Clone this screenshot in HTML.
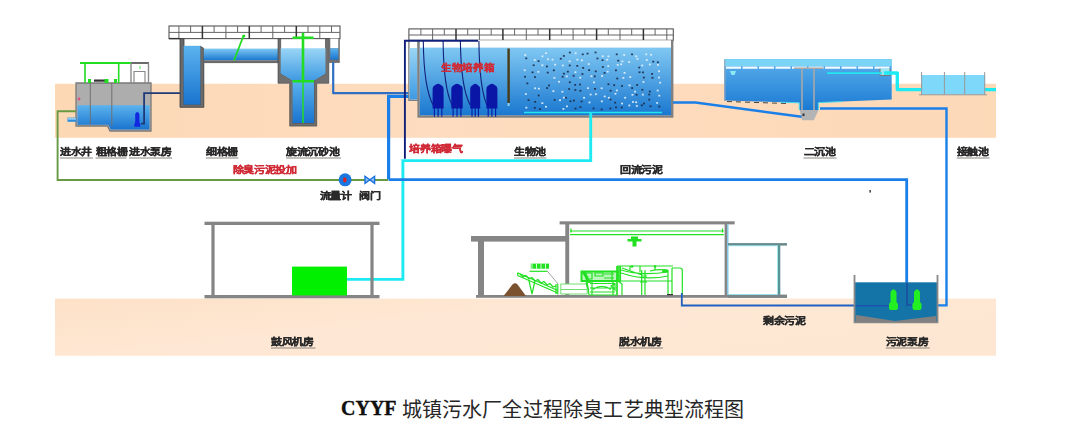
<!DOCTYPE html>
<html lang="zh-CN"><head><meta charset="utf-8"><title>CYYF</title>
<style>
html,body{margin:0;padding:0;background:#fff;width:1077px;height:443px;overflow:hidden}
svg{position:absolute;left:0;top:0;filter:blur(0.45px)}
.lb{font-family:"Liberation Sans",sans-serif;font-size:11px;font-weight:bold;fill:#2a2a2a;stroke:#2a2a2a;stroke-width:0.35px}
.rd{font-family:"Liberation Sans",sans-serif;font-size:11px;font-weight:bold;fill:#d02a36;stroke:#d02a36;stroke-width:0.3px}
.cap{position:absolute;left:341px;top:397px;font-family:"Liberation Serif",serif;font-size:20px;color:#111;white-space:nowrap;line-height:26px}
</style></head><body>
<svg width="1077" height="443" viewBox="0 0 1077 443">
<defs>
<linearGradient id="wat" x1="0" y1="0" x2="0" y2="1"><stop offset="0" stop-color="#80c8f3"/><stop offset="1" stop-color="#1a78d0"/></linearGradient>
<linearGradient id="watD" x1="0" y1="0" x2="0" y2="1"><stop offset="0" stop-color="#5bb3ee"/><stop offset="1" stop-color="#1a74cf"/></linearGradient>
<linearGradient id="watL" x1="0" y1="0" x2="0" y2="1"><stop offset="0" stop-color="#9ad5f6"/><stop offset="1" stop-color="#3e9ae2"/></linearGradient>
<linearGradient id="band2" x1="0" y1="0" x2="1" y2="0.5"><stop offset="0" stop-color="#fde1c7"/><stop offset="0.5" stop-color="#fee8d5"/><stop offset="1" stop-color="#fee7d2"/></linearGradient>
<linearGradient id="band1" x1="0" y1="0" x2="1" y2="0"><stop offset="0" stop-color="#fcd8b4"/><stop offset="0.4" stop-color="#fddcbf"/><stop offset="1" stop-color="#fcd9b7"/></linearGradient>
</defs>

<rect x="55" y="83.8" width="941" height="54" fill="url(#band1)"/>
<rect x="55" y="298.6" width="941" height="57.2" fill="url(#band2)"/>
<path d="M76 83 H151 V131 H110 L107.5 126 H76 Z" fill="#adadad" stroke="#7a7a7a" stroke-width="1.3"/>
<path d="M77.5 105.3 H149.5 V129.5 H110.8 L108.3 124.8 H77.5 Z" fill="url(#watD)"/>
<line x1="90.3" y1="83" x2="90.3" y2="125" stroke="#707070" stroke-width="1"/>
<line x1="111.8" y1="83" x2="111.8" y2="126" stroke="#707070" stroke-width="1"/>
<path d="M80 63 H131" stroke="#22dd22" stroke-width="2" fill="none"/>
<path d="M131 63 H149" stroke="#444" stroke-width="1.6" fill="none"/>
<path d="M85 63 V83 M118.7 63 V83" stroke="#22dd22" stroke-width="1.6"/>
<path d="M131 63 V83 M148.5 63 V83" stroke="#8a8a8a" stroke-width="1.4"/>
<path d="M134 83 V71.5 H145 V83" stroke="#8a8a8a" stroke-width="1.2" fill="none"/>
<path d="M140 66 V69" stroke="#22dd22" stroke-width="0.8"/>
<rect x="88" y="79" width="3" height="4" fill="#22dd22"/><rect x="94" y="79.5" width="11" height="2.2" fill="#333"/><rect x="104.5" y="79" width="4" height="4" fill="#22dd22"/><rect x="114" y="79" width="3" height="4" fill="#22dd22"/>
<rect x="67.5" y="117.6" width="9" height="4.2" fill="#2a8ee0"/><rect x="68" y="118.3" width="8" height="1.2" fill="#bfe6fb"/>
<circle cx="79" cy="99" r="1.4" fill="#e05080"/>
<path d="M135.2 122 V114 Q137.3 109.8 139.4 114 V122 L140.3 124.5 V126.8 H134.3 V124.5 Z" fill="#1228e0"/>
<path d="M141 123.6 H144.1 V93.2 H184" stroke="#1e3a78" stroke-width="1.8" fill="none"/>
<rect x="169" y="26" width="171" height="12.600000000000001" fill="#fff" stroke="#555" stroke-width="1.1"/><line x1="169" y1="32.4" x2="340" y2="32.4" stroke="#666" stroke-width="1"/><line x1="178.9" y1="26" x2="178.9" y2="38.6" stroke="#666" stroke-width="1"/><line x1="190.6" y1="26" x2="190.6" y2="32.4" stroke="#666" stroke-width="1"/><line x1="202.4" y1="26" x2="202.4" y2="38.6" stroke="#333" stroke-width="1.5"/><line x1="214.1" y1="26" x2="214.1" y2="32.4" stroke="#666" stroke-width="1"/><line x1="225.9" y1="26" x2="225.9" y2="38.6" stroke="#666" stroke-width="1"/><line x1="237.6" y1="26" x2="237.6" y2="32.4" stroke="#666" stroke-width="1"/><line x1="249.3" y1="26" x2="249.3" y2="38.6" stroke="#333" stroke-width="1.5"/><line x1="261.1" y1="26" x2="261.1" y2="32.4" stroke="#666" stroke-width="1"/><line x1="272.8" y1="26" x2="272.8" y2="38.6" stroke="#666" stroke-width="1"/><line x1="284.6" y1="26" x2="284.6" y2="32.4" stroke="#666" stroke-width="1"/><line x1="296.3" y1="26" x2="296.3" y2="38.6" stroke="#333" stroke-width="1.5"/><line x1="308.0" y1="26" x2="308.0" y2="32.4" stroke="#666" stroke-width="1"/><line x1="319.8" y1="26" x2="319.8" y2="38.6" stroke="#666" stroke-width="1"/><line x1="331.5" y1="26" x2="331.5" y2="32.4" stroke="#666" stroke-width="1"/>
<path d="M169 38.6 H180" stroke="#333" stroke-width="1.4"/>
<path d="M180 38.6 H184 V104.6 H200.4 V46.2 L203.8 48.5 V107.3 H180 Z" fill="#6a6a6a" stroke="#3a3a3a" stroke-width="0.8"/>
<rect x="183.6" y="45.8" width="16.8" height="58.8" fill="url(#watD)"/>
<rect x="203.8" y="48.6" width="75" height="11.7" fill="url(#wat)"/>
<rect x="203.8" y="60.3" width="75" height="2.8" fill="#6a6a6a"/>
<line x1="243.5" y1="35.8" x2="234" y2="60.5" stroke="#22dd22" stroke-width="1.8"/>
<circle cx="243.8" cy="36" r="1.6" fill="#22dd22"/>
<path d="M278 38.6 H280.7 V73.6 L292.5 80.5 V123 H314 V80.5 L325.5 73.6 V38.6 H328.8 V83.3 H316.7 V126.1 H289.7 V83.3 H278 Z" fill="#6f6f6f" stroke="#3a3a3a" stroke-width="0.6"/>
<path d="M280.7 48.3 H325.5 V73.6 L314 80.5 H292.5 L280.7 73.6 Z" fill="url(#watL)"/>
<rect x="292.5" y="80.5" width="21.5" height="42.5" fill="url(#watD)"/>
<rect x="328.8" y="38.6" width="11" height="24.3" fill="#6f6f6f"/>
<rect x="330.3" y="38.6" width="8" height="9.7" fill="#fff"/>
<rect x="330.3" y="48.3" width="8" height="11.4" fill="url(#watD)"/>
<path d="M303 32.7 V81" stroke="#22dd22" stroke-width="2.6"/>
<path d="M303 81 V123" stroke="#22dd22" stroke-width="1.5"/>
<path d="M292.6 37.8 H313.6 M292.5 81.3 H314" stroke="#22dd22" stroke-width="2.4"/>
<path d="M333.2 62 V93.2 H410" stroke="#2f6fc2" stroke-width="2.2" fill="none" stroke-linejoin="round"/>
<path d="M410 96.4 H388.6 V179.5" stroke="#1a7fe8" stroke-width="3.2" fill="none"/>
<rect x="408.9" y="28.9" width="264.4" height="11.399999999999999" fill="#fff" stroke="#555" stroke-width="1.1"/><line x1="408.9" y1="35" x2="673.3" y2="35" stroke="#666" stroke-width="1"/><line x1="420.9" y1="28.9" x2="420.9" y2="35" stroke="#666" stroke-width="1"/><line x1="432.6" y1="28.9" x2="432.6" y2="40.3" stroke="#666" stroke-width="1"/><line x1="444.3" y1="28.9" x2="444.3" y2="35" stroke="#666" stroke-width="1"/><line x1="456.0" y1="28.9" x2="456.0" y2="40.3" stroke="#333" stroke-width="1.5"/><line x1="467.7" y1="28.9" x2="467.7" y2="35" stroke="#666" stroke-width="1"/><line x1="479.4" y1="28.9" x2="479.4" y2="40.3" stroke="#666" stroke-width="1"/><line x1="491.2" y1="28.9" x2="491.2" y2="35" stroke="#666" stroke-width="1"/><line x1="502.9" y1="28.9" x2="502.9" y2="40.3" stroke="#333" stroke-width="1.5"/><line x1="514.6" y1="28.9" x2="514.6" y2="35" stroke="#666" stroke-width="1"/><line x1="526.3" y1="28.9" x2="526.3" y2="40.3" stroke="#666" stroke-width="1"/><line x1="538.0" y1="28.9" x2="538.0" y2="35" stroke="#666" stroke-width="1"/><line x1="549.7" y1="28.9" x2="549.7" y2="40.3" stroke="#333" stroke-width="1.5"/><line x1="561.4" y1="28.9" x2="561.4" y2="35" stroke="#666" stroke-width="1"/><line x1="573.1" y1="28.9" x2="573.1" y2="40.3" stroke="#666" stroke-width="1"/><line x1="584.8" y1="28.9" x2="584.8" y2="35" stroke="#666" stroke-width="1"/><line x1="596.6" y1="28.9" x2="596.6" y2="40.3" stroke="#333" stroke-width="1.5"/><line x1="608.3" y1="28.9" x2="608.3" y2="35" stroke="#666" stroke-width="1"/><line x1="620.0" y1="28.9" x2="620.0" y2="40.3" stroke="#666" stroke-width="1"/><line x1="631.7" y1="28.9" x2="631.7" y2="35" stroke="#666" stroke-width="1"/><line x1="643.4" y1="28.9" x2="643.4" y2="40.3" stroke="#333" stroke-width="1.5"/><line x1="655.1" y1="28.9" x2="655.1" y2="35" stroke="#666" stroke-width="1"/><line x1="666.8" y1="28.9" x2="666.8" y2="40.3" stroke="#666" stroke-width="1"/>
<rect x="408.2" y="40.3" width="11.6" height="60.7" fill="#808080"/>
<rect x="409.6" y="40.3" width="7.8" height="59.2" fill="#fff"/>
<rect x="409.6" y="48" width="7.8" height="51.5" fill="url(#watL)"/>
<rect x="417.4" y="40.3" width="256" height="77.4" fill="#808080"/>
<rect x="419.8" y="40.3" width="251.2" height="74.9" fill="#fff"/>
<rect x="419.8" y="47.6" width="251.2" height="67.6" fill="url(#wat)"/>
<rect x="507.4" y="48.5" width="2.4" height="54.5" fill="#4a3c16"/><rect x="507.6" y="103" width="2" height="3" fill="#8fd0f5"/>
<path d="M404.9 158.8 V40.8 H478" stroke="#10207a" stroke-width="1.9" fill="none"/>
<path d="M423.3 41 Q423.8 88 433.1 105" stroke="#10207a" stroke-width="1.1" fill="none"/>
<path d="M443.1 41 Q443.6 88 452 105" stroke="#10207a" stroke-width="1.1" fill="none"/>
<path d="M460.4 41 Q460.9 88 470.2 105" stroke="#10207a" stroke-width="1.1" fill="none"/>
<path d="M478.9 41 Q479.4 88 486.9 105" stroke="#10207a" stroke-width="1.1" fill="none"/>
<path d="M432.6 108.4 V89 Q432.6 86 434.6 85.5 Q438.1 82 441.6 85.5 Q443.6 86 443.6 89 V108.4 Z" fill="#0a17a6"/>
<path d="M434.40000000000003 108 V116.7 M438.1 108 V116.7 M441.8 108 V116.7" stroke="#0a17a6" stroke-width="1.1"/>
<path d="M451.3 108.4 V89 Q451.3 86 453.3 85.5 Q457 82 460.7 85.5 Q462.7 86 462.7 89 V108.4 Z" fill="#0a17a6"/>
<path d="M453.1 108 V116.7 M457 108 V116.7 M460.9 108 V116.7" stroke="#0a17a6" stroke-width="1.1"/>
<path d="M470.2 108.4 V89 Q470.2 86 472.2 85.5 Q475.2 82 478.2 85.5 Q480.2 86 480.2 89 V108.4 Z" fill="#0a17a6"/>
<path d="M472.0 108 V116.7 M475.2 108 V116.7 M478.4 108 V116.7" stroke="#0a17a6" stroke-width="1.1"/>
<path d="M486.4 108.4 V89 Q486.4 86 488.4 85.5 Q491.9 82 495.4 85.5 Q497.4 86 497.4 89 V108.4 Z" fill="#0a17a6"/>
<path d="M488.2 108 V116.7 M491.9 108 V116.7 M495.59999999999997 108 V116.7" stroke="#0a17a6" stroke-width="1.1"/>
<text transform="translate(440.8 71.3) scale(1 0.86)" class="rd" style="font-size:10.6px">生物培养箱</text>
<rect x="524.3" y="54.2" width="1.9" height="1.7" fill="#e6f2fc" opacity="0.9"/>
<rect x="525.3" y="57.5" width="1.9" height="1.7" fill="#1c2a48" opacity="0.9"/>
<rect x="523.8" y="69.4" width="1.9" height="1.7" fill="#e6f2fc" opacity="0.9"/>
<rect x="524.1" y="75.9" width="1.9" height="1.7" fill="#1c2a48" opacity="0.9"/>
<rect x="526.4" y="82.5" width="1.9" height="1.7" fill="#1c2a48" opacity="0.9"/>
<rect x="524.9" y="93.2" width="1.9" height="1.7" fill="#e6f2fc" opacity="0.9"/>
<rect x="527.6" y="99.3" width="1.9" height="1.7" fill="#1c2a48" opacity="0.9"/>
<rect x="525.4" y="106.8" width="1.9" height="1.7" fill="#e6f2fc" opacity="0.9"/>
<rect x="533.8" y="59.1" width="1.9" height="1.7" fill="#e6f2fc" opacity="0.9"/>
<rect x="532.7" y="64.4" width="1.9" height="1.7" fill="#1c2a48" opacity="0.9"/>
<rect x="531.6" y="71.5" width="1.9" height="1.7" fill="#1c2a48" opacity="0.9"/>
<rect x="534.0" y="76.2" width="1.9" height="1.7" fill="#1c2a48" opacity="0.9"/>
<rect x="534.2" y="87.4" width="1.9" height="1.7" fill="#e6f2fc" opacity="0.9"/>
<rect x="534.2" y="101.0" width="1.9" height="1.7" fill="#1c2a48" opacity="0.9"/>
<rect x="533.9" y="107.0" width="1.9" height="1.7" fill="#1c2a48" opacity="0.9"/>
<rect x="541.5" y="55.5" width="1.9" height="1.7" fill="#e6f2fc" opacity="0.9"/>
<rect x="537.6" y="60.3" width="1.9" height="1.7" fill="#1c2a48" opacity="0.9"/>
<rect x="541.4" y="64.4" width="1.9" height="1.7" fill="#e6f2fc" opacity="0.9"/>
<rect x="537.4" y="71.0" width="1.9" height="1.7" fill="#e6f2fc" opacity="0.9"/>
<rect x="537.9" y="87.8" width="1.9" height="1.7" fill="#e6f2fc" opacity="0.9"/>
<rect x="537.7" y="94.6" width="1.9" height="1.7" fill="#1c2a48" opacity="0.9"/>
<rect x="541.4" y="102.3" width="1.9" height="1.7" fill="#e6f2fc" opacity="0.9"/>
<rect x="539.1" y="108.3" width="1.9" height="1.7" fill="#1c2a48" opacity="0.9"/>
<rect x="545.1" y="52.3" width="1.9" height="1.7" fill="#e6f2fc" opacity="0.9"/>
<rect x="547.1" y="58.4" width="1.9" height="1.7" fill="#e6f2fc" opacity="0.9"/>
<rect x="546.0" y="65.6" width="1.9" height="1.7" fill="#1c2a48" opacity="0.9"/>
<rect x="546.8" y="71.7" width="1.9" height="1.7" fill="#1c2a48" opacity="0.9"/>
<rect x="548.1" y="84.6" width="1.9" height="1.7" fill="#1c2a48" opacity="0.9"/>
<rect x="546.2" y="87.2" width="1.9" height="1.7" fill="#1c2a48" opacity="0.9"/>
<rect x="545.0" y="105.9" width="1.9" height="1.7" fill="#e6f2fc" opacity="0.9"/>
<rect x="551.6" y="58.8" width="1.9" height="1.7" fill="#e6f2fc" opacity="0.9"/>
<rect x="554.2" y="63.8" width="1.9" height="1.7" fill="#e6f2fc" opacity="0.9"/>
<rect x="552.9" y="69.5" width="1.9" height="1.7" fill="#1c2a48" opacity="0.9"/>
<rect x="553.4" y="77.0" width="1.9" height="1.7" fill="#e6f2fc" opacity="0.9"/>
<rect x="552.4" y="90.3" width="1.9" height="1.7" fill="#e6f2fc" opacity="0.9"/>
<rect x="553.7" y="99.1" width="1.9" height="1.7" fill="#1c2a48" opacity="0.9"/>
<rect x="562.9" y="55.1" width="1.9" height="1.7" fill="#1c2a48" opacity="0.9"/>
<rect x="559.8" y="57.9" width="1.9" height="1.7" fill="#1c2a48" opacity="0.9"/>
<rect x="561.9" y="64.6" width="1.9" height="1.7" fill="#e6f2fc" opacity="0.9"/>
<rect x="562.9" y="72.8" width="1.9" height="1.7" fill="#1c2a48" opacity="0.9"/>
<rect x="561.7" y="75.9" width="1.9" height="1.7" fill="#1c2a48" opacity="0.9"/>
<rect x="558.1" y="80.9" width="1.9" height="1.7" fill="#e6f2fc" opacity="0.9"/>
<rect x="561.5" y="90.9" width="1.9" height="1.7" fill="#e6f2fc" opacity="0.9"/>
<rect x="562.9" y="96.8" width="1.9" height="1.7" fill="#e6f2fc" opacity="0.9"/>
<rect x="559.1" y="99.4" width="1.9" height="1.7" fill="#e6f2fc" opacity="0.9"/>
<rect x="562.5" y="108.1" width="1.9" height="1.7" fill="#e6f2fc" opacity="0.9"/>
<rect x="568.9" y="51.7" width="1.9" height="1.7" fill="#1c2a48" opacity="0.9"/>
<rect x="568.8" y="60.5" width="1.9" height="1.7" fill="#e6f2fc" opacity="0.9"/>
<rect x="568.8" y="64.6" width="1.9" height="1.7" fill="#1c2a48" opacity="0.9"/>
<rect x="566.9" y="70.8" width="1.9" height="1.7" fill="#1c2a48" opacity="0.9"/>
<rect x="565.8" y="75.5" width="1.9" height="1.7" fill="#e6f2fc" opacity="0.9"/>
<rect x="568.9" y="81.4" width="1.9" height="1.7" fill="#1c2a48" opacity="0.9"/>
<rect x="568.2" y="88.2" width="1.9" height="1.7" fill="#1c2a48" opacity="0.9"/>
<rect x="565.0" y="96.9" width="1.9" height="1.7" fill="#1c2a48" opacity="0.9"/>
<rect x="569.6" y="100.4" width="1.9" height="1.7" fill="#1c2a48" opacity="0.9"/>
<rect x="566.0" y="105.5" width="1.9" height="1.7" fill="#e6f2fc" opacity="0.9"/>
<rect x="574.7" y="52.4" width="1.9" height="1.7" fill="#e6f2fc" opacity="0.9"/>
<rect x="576.4" y="58.8" width="1.9" height="1.7" fill="#e6f2fc" opacity="0.9"/>
<rect x="576.3" y="65.0" width="1.9" height="1.7" fill="#1c2a48" opacity="0.9"/>
<rect x="574.5" y="71.3" width="1.9" height="1.7" fill="#e6f2fc" opacity="0.9"/>
<rect x="572.7" y="74.9" width="1.9" height="1.7" fill="#1c2a48" opacity="0.9"/>
<rect x="574.2" y="84.0" width="1.9" height="1.7" fill="#1c2a48" opacity="0.9"/>
<rect x="574.4" y="89.1" width="1.9" height="1.7" fill="#1c2a48" opacity="0.9"/>
<rect x="573.0" y="99.7" width="1.9" height="1.7" fill="#1c2a48" opacity="0.9"/>
<rect x="574.6" y="107.7" width="1.9" height="1.7" fill="#1c2a48" opacity="0.9"/>
<rect x="581.8" y="53.5" width="1.9" height="1.7" fill="#1c2a48" opacity="0.9"/>
<rect x="581.0" y="59.5" width="1.9" height="1.7" fill="#e6f2fc" opacity="0.9"/>
<rect x="582.2" y="67.0" width="1.9" height="1.7" fill="#1c2a48" opacity="0.9"/>
<rect x="581.5" y="73.2" width="1.9" height="1.7" fill="#1c2a48" opacity="0.9"/>
<rect x="579.3" y="76.8" width="1.9" height="1.7" fill="#e6f2fc" opacity="0.9"/>
<rect x="579.1" y="83.7" width="1.9" height="1.7" fill="#1c2a48" opacity="0.9"/>
<rect x="579.5" y="89.9" width="1.9" height="1.7" fill="#1c2a48" opacity="0.9"/>
<rect x="583.1" y="96.9" width="1.9" height="1.7" fill="#e6f2fc" opacity="0.9"/>
<rect x="580.7" y="100.6" width="1.9" height="1.7" fill="#1c2a48" opacity="0.9"/>
<rect x="579.5" y="106.3" width="1.9" height="1.7" fill="#1c2a48" opacity="0.9"/>
<rect x="586.6" y="52.7" width="1.9" height="1.7" fill="#1c2a48" opacity="0.9"/>
<rect x="587.8" y="63.2" width="1.9" height="1.7" fill="#e6f2fc" opacity="0.9"/>
<rect x="588.2" y="69.3" width="1.9" height="1.7" fill="#1c2a48" opacity="0.9"/>
<rect x="590.5" y="75.4" width="1.9" height="1.7" fill="#e6f2fc" opacity="0.9"/>
<rect x="587.0" y="87.3" width="1.9" height="1.7" fill="#e6f2fc" opacity="0.9"/>
<rect x="589.7" y="93.7" width="1.9" height="1.7" fill="#e6f2fc" opacity="0.9"/>
<rect x="588.5" y="101.6" width="1.9" height="1.7" fill="#e6f2fc" opacity="0.9"/>
<rect x="594.6" y="51.6" width="1.9" height="1.7" fill="#1c2a48" opacity="0.9"/>
<rect x="596.5" y="57.6" width="1.9" height="1.7" fill="#1c2a48" opacity="0.9"/>
<rect x="594.8" y="70.5" width="1.9" height="1.7" fill="#1c2a48" opacity="0.9"/>
<rect x="593.8" y="75.5" width="1.9" height="1.7" fill="#1c2a48" opacity="0.9"/>
<rect x="593.0" y="81.5" width="1.9" height="1.7" fill="#e6f2fc" opacity="0.9"/>
<rect x="594.1" y="88.0" width="1.9" height="1.7" fill="#1c2a48" opacity="0.9"/>
<rect x="595.0" y="93.4" width="1.9" height="1.7" fill="#e6f2fc" opacity="0.9"/>
<rect x="592.6" y="107.6" width="1.9" height="1.7" fill="#1c2a48" opacity="0.9"/>
<rect x="601.8" y="55.4" width="1.9" height="1.7" fill="#e6f2fc" opacity="0.9"/>
<rect x="601.6" y="59.4" width="1.9" height="1.7" fill="#1c2a48" opacity="0.9"/>
<rect x="601.9" y="66.1" width="1.9" height="1.7" fill="#1c2a48" opacity="0.9"/>
<rect x="603.6" y="72.1" width="1.9" height="1.7" fill="#1c2a48" opacity="0.9"/>
<rect x="601.1" y="75.1" width="1.9" height="1.7" fill="#e6f2fc" opacity="0.9"/>
<rect x="600.7" y="87.4" width="1.9" height="1.7" fill="#e6f2fc" opacity="0.9"/>
<rect x="603.8" y="95.6" width="1.9" height="1.7" fill="#e6f2fc" opacity="0.9"/>
<rect x="600.9" y="100.5" width="1.9" height="1.7" fill="#e6f2fc" opacity="0.9"/>
<rect x="600.7" y="108.6" width="1.9" height="1.7" fill="#1c2a48" opacity="0.9"/>
<rect x="607.5" y="55.5" width="1.9" height="1.7" fill="#e6f2fc" opacity="0.9"/>
<rect x="606.3" y="58.9" width="1.9" height="1.7" fill="#e6f2fc" opacity="0.9"/>
<rect x="607.3" y="65.3" width="1.9" height="1.7" fill="#e6f2fc" opacity="0.9"/>
<rect x="606.7" y="70.8" width="1.9" height="1.7" fill="#e6f2fc" opacity="0.9"/>
<rect x="607.5" y="83.4" width="1.9" height="1.7" fill="#1c2a48" opacity="0.9"/>
<rect x="609.6" y="89.9" width="1.9" height="1.7" fill="#1c2a48" opacity="0.9"/>
<rect x="607.9" y="96.9" width="1.9" height="1.7" fill="#e6f2fc" opacity="0.9"/>
<rect x="609.5" y="98.7" width="1.9" height="1.7" fill="#1c2a48" opacity="0.9"/>
<rect x="609.4" y="107.6" width="1.9" height="1.7" fill="#1c2a48" opacity="0.9"/>
<rect x="615.8" y="53.5" width="1.9" height="1.7" fill="#1c2a48" opacity="0.9"/>
<rect x="617.3" y="59.8" width="1.9" height="1.7" fill="#1c2a48" opacity="0.9"/>
<rect x="616.7" y="64.1" width="1.9" height="1.7" fill="#e6f2fc" opacity="0.9"/>
<rect x="615.0" y="69.5" width="1.9" height="1.7" fill="#1c2a48" opacity="0.9"/>
<rect x="616.3" y="77.7" width="1.9" height="1.7" fill="#1c2a48" opacity="0.9"/>
<rect x="613.2" y="84.3" width="1.9" height="1.7" fill="#1c2a48" opacity="0.9"/>
<rect x="615.9" y="89.6" width="1.9" height="1.7" fill="#e6f2fc" opacity="0.9"/>
<rect x="614.5" y="92.9" width="1.9" height="1.7" fill="#e6f2fc" opacity="0.9"/>
<rect x="614.2" y="101.8" width="1.9" height="1.7" fill="#1c2a48" opacity="0.9"/>
<rect x="615.1" y="106.5" width="1.9" height="1.7" fill="#1c2a48" opacity="0.9"/>
<rect x="623.2" y="54.1" width="1.9" height="1.7" fill="#e6f2fc" opacity="0.9"/>
<rect x="621.4" y="60.5" width="1.9" height="1.7" fill="#e6f2fc" opacity="0.9"/>
<rect x="620.2" y="63.4" width="1.9" height="1.7" fill="#e6f2fc" opacity="0.9"/>
<rect x="623.6" y="72.0" width="1.9" height="1.7" fill="#e6f2fc" opacity="0.9"/>
<rect x="622.4" y="77.0" width="1.9" height="1.7" fill="#e6f2fc" opacity="0.9"/>
<rect x="621.1" y="85.1" width="1.9" height="1.7" fill="#1c2a48" opacity="0.9"/>
<rect x="624.2" y="96.9" width="1.9" height="1.7" fill="#e6f2fc" opacity="0.9"/>
<rect x="621.1" y="102.7" width="1.9" height="1.7" fill="#e6f2fc" opacity="0.9"/>
<rect x="620.8" y="106.7" width="1.9" height="1.7" fill="#1c2a48" opacity="0.9"/>
<rect x="631.1" y="53.5" width="1.9" height="1.7" fill="#1c2a48" opacity="0.9"/>
<rect x="628.2" y="61.1" width="1.9" height="1.7" fill="#e6f2fc" opacity="0.9"/>
<rect x="629.3" y="76.2" width="1.9" height="1.7" fill="#e6f2fc" opacity="0.9"/>
<rect x="628.6" y="84.5" width="1.9" height="1.7" fill="#e6f2fc" opacity="0.9"/>
<rect x="631.2" y="87.2" width="1.9" height="1.7" fill="#1c2a48" opacity="0.9"/>
<rect x="631.5" y="93.9" width="1.9" height="1.7" fill="#e6f2fc" opacity="0.9"/>
<rect x="632.0" y="101.1" width="1.9" height="1.7" fill="#e6f2fc" opacity="0.9"/>
<rect x="628.4" y="104.6" width="1.9" height="1.7" fill="#e6f2fc" opacity="0.9"/>
<rect x="635.3" y="55.4" width="1.9" height="1.7" fill="#e6f2fc" opacity="0.9"/>
<rect x="636.5" y="58.0" width="1.9" height="1.7" fill="#e6f2fc" opacity="0.9"/>
<rect x="638.3" y="66.7" width="1.9" height="1.7" fill="#1c2a48" opacity="0.9"/>
<rect x="638.6" y="71.4" width="1.9" height="1.7" fill="#1c2a48" opacity="0.9"/>
<rect x="636.2" y="84.1" width="1.9" height="1.7" fill="#1c2a48" opacity="0.9"/>
<rect x="634.1" y="90.8" width="1.9" height="1.7" fill="#e6f2fc" opacity="0.9"/>
<rect x="635.6" y="93.9" width="1.9" height="1.7" fill="#1c2a48" opacity="0.9"/>
<rect x="635.2" y="101.4" width="1.9" height="1.7" fill="#e6f2fc" opacity="0.9"/>
<rect x="635.9" y="105.1" width="1.9" height="1.7" fill="#e6f2fc" opacity="0.9"/>
<rect x="645.3" y="53.5" width="1.9" height="1.7" fill="#e6f2fc" opacity="0.9"/>
<rect x="645.8" y="59.2" width="1.9" height="1.7" fill="#e6f2fc" opacity="0.9"/>
<rect x="641.3" y="64.6" width="1.9" height="1.7" fill="#e6f2fc" opacity="0.9"/>
<rect x="642.1" y="71.5" width="1.9" height="1.7" fill="#1c2a48" opacity="0.9"/>
<rect x="642.9" y="76.7" width="1.9" height="1.7" fill="#1c2a48" opacity="0.9"/>
<rect x="642.5" y="81.1" width="1.9" height="1.7" fill="#e6f2fc" opacity="0.9"/>
<rect x="641.4" y="88.9" width="1.9" height="1.7" fill="#1c2a48" opacity="0.9"/>
<rect x="641.9" y="93.8" width="1.9" height="1.7" fill="#e6f2fc" opacity="0.9"/>
<rect x="643.0" y="102.7" width="1.9" height="1.7" fill="#1c2a48" opacity="0.9"/>
<rect x="640.9" y="104.5" width="1.9" height="1.7" fill="#1c2a48" opacity="0.9"/>
<rect x="650.1" y="53.9" width="1.9" height="1.7" fill="#e6f2fc" opacity="0.9"/>
<rect x="652.3" y="60.8" width="1.9" height="1.7" fill="#1c2a48" opacity="0.9"/>
<rect x="648.9" y="63.6" width="1.9" height="1.7" fill="#e6f2fc" opacity="0.9"/>
<rect x="651.1" y="73.1" width="1.9" height="1.7" fill="#1c2a48" opacity="0.9"/>
<rect x="651.5" y="76.9" width="1.9" height="1.7" fill="#1c2a48" opacity="0.9"/>
<rect x="648.9" y="90.7" width="1.9" height="1.7" fill="#1c2a48" opacity="0.9"/>
<rect x="648.3" y="93.7" width="1.9" height="1.7" fill="#1c2a48" opacity="0.9"/>
<rect x="648.3" y="98.8" width="1.9" height="1.7" fill="#1c2a48" opacity="0.9"/>
<rect x="649.6" y="105.4" width="1.9" height="1.7" fill="#1c2a48" opacity="0.9"/>
<rect x="656.9" y="61.4" width="1.9" height="1.7" fill="#1c2a48" opacity="0.9"/>
<rect x="657.0" y="64.1" width="1.9" height="1.7" fill="#e6f2fc" opacity="0.9"/>
<rect x="658.1" y="70.4" width="1.9" height="1.7" fill="#e6f2fc" opacity="0.9"/>
<rect x="658.0" y="76.7" width="1.9" height="1.7" fill="#e6f2fc" opacity="0.9"/>
<rect x="659.2" y="81.8" width="1.9" height="1.7" fill="#e6f2fc" opacity="0.9"/>
<rect x="656.7" y="89.7" width="1.9" height="1.7" fill="#e6f2fc" opacity="0.9"/>
<rect x="658.3" y="94.8" width="1.9" height="1.7" fill="#e6f2fc" opacity="0.9"/>
<rect x="656.2" y="102.1" width="1.9" height="1.7" fill="#e6f2fc" opacity="0.9"/>
<rect x="658.4" y="105.7" width="1.9" height="1.7" fill="#1c2a48" opacity="0.9"/>
<line x1="524" y1="112.5" x2="662" y2="112.5" stroke="#22e6f0" stroke-width="1.5"/>
<path d="M590.7 112.5 V160.6 H402.9 V279.4 H347" stroke="#1eeaf2" stroke-width="2.9" fill="none"/>
<linearGradient id="watC" x1="0" y1="0" x2="0" y2="1"><stop offset="0" stop-color="#5aaeeb"/><stop offset="1" stop-color="#1b7ad3"/></linearGradient>
<path d="M724 59.3 H891.7 V99.5 L818.5 102.6 L818.3 110 H799.6 L799.3 102.8 L724 100.5 Z" fill="url(#watC)"/>
<rect x="724" y="59.3" width="167.7" height="6.9" fill="#79d4f6"/>
<line x1="726" y1="67.6" x2="890" y2="67.6" stroke="#f4fbff" stroke-width="2.4" stroke-dasharray="15 1.5"/>
<line x1="724.8" y1="60" x2="724.8" y2="100.5" stroke="#9ab" stroke-width="1.2"/>
<path d="M730 71 H736 L734.5 75 H731.5 Z" fill="#8ee8f0"/>
<path d="M880 68.5 V75.5 H890 V68.5" stroke="#777" stroke-width="1" fill="#9ee6f4"/>
<path d="M727 101.5 L790 103.6" stroke="#444" stroke-width="1" stroke-dasharray="5 4"/>
<path d="M802 68.5 V111 M814 68.5 V111 M794 68.3 H823" stroke="#a8a8a8" stroke-width="1.6" fill="none"/>
<path d="M799.6 110 H818.6 L813.8 120.3 H802 Z" fill="#b4b4b4"/>
<path d="M780 102.2 L799.3 102.8 V110 M818.3 110 V102.6 L842 101.6" stroke="#3fd8f0" stroke-width="1" fill="none"/>
<rect x="802.5" y="113.5" width="2" height="2.5" fill="#333"/>
<line x1="827" y1="73.2" x2="882" y2="73.2" stroke="#22e6f0" stroke-width="1.8"/>
<path d="M884 73 H897.3 V89.6 H996" stroke="#1eeaf2" stroke-width="3.4" fill="none" stroke-linejoin="round"/>
<path d="M673 102.5 H695.4 L801.6 116.8" stroke="#1a7fe8" stroke-width="2.4" fill="none"/>
<path d="M820 108.5 H946.5 V305.4 H937.5" stroke="#1a7fe8" stroke-width="2.4" fill="none"/>
<rect x="921.4" y="75" width="63.7" height="19.5" fill="#7dd8f9"/>
<path d="M921.6 72 V94.5 M944.4 72 V94.5 M964.7 72 V94.5 M984.7 72 V94.5 M919 94.8 H987" stroke="#999" stroke-width="1" fill="none"/>
<path d="M76 111.2 H57.6 V180 H388" stroke="#689a44" stroke-width="1.9" fill="none"/>
<circle cx="345.1" cy="179.8" r="6.5" fill="#1a78e0"/><ellipse cx="344.8" cy="179.8" rx="1.8" ry="2.6" fill="#e02020"/>
<path d="M365 176.3 L374.6 183.3 V176.3 L365 183.3 Z" fill="#8fc4f0" stroke="#1a6fe0" stroke-width="1.4"/>
<path d="M388.6 179.6 H906.7 V305" stroke="#1a7fe8" stroke-width="2.8" fill="none"/>
<rect x="869.5" y="190" width="1.3" height="2.6" fill="#222"/>
<rect x="204.5" y="221.7" width="175" height="3.3" fill="#858585"/>
<rect x="204.5" y="295" width="175" height="3.3" fill="#858585"/>
<rect x="211.4" y="222" width="3.2" height="75" fill="#858585"/>
<rect x="370.4" y="222" width="3.2" height="75" fill="#858585"/>
<rect x="292" y="266.6" width="55" height="28.8" fill="#00f000"/>
<rect x="471" y="236" width="97" height="5.6" fill="#858585"/>
<rect x="478" y="241" width="6" height="56" fill="#858585"/>
<rect x="559.6" y="221.3" width="175.1" height="3.1" fill="#858585"/>
<rect x="565.3" y="222" width="3.9" height="75" fill="#858585"/>
<rect x="724.6" y="222" width="2.6" height="75" fill="#858585"/>
<rect x="727.1" y="224.4" width="1.4" height="72" fill="#7bc8e8"/>
<rect x="476" y="295" width="311" height="2.8" fill="#858585"/>
<rect x="727.9" y="243.1" width="59.1" height="2.5" fill="#6a8a8c"/><rect x="727.9" y="245.4" width="50" height="0.8" fill="#7ee0ee"/>
<rect x="777.8" y="245" width="2.5" height="50" fill="#5a9498"/><rect x="777.2" y="245" width="0.7" height="50" fill="#8ee4ee"/>
<rect x="728" y="294.6" width="59" height="3.2" fill="#7b8585"/><rect x="728" y="294" width="50" height="0.8" fill="#8ee4ee"/>
<path d="M503.5 296 L512.5 284.5 Q515 282 517.5 284.5 L526 296 Z" fill="#7a5230"/>
<path d="M570 231 H723.8 M570 234.7 H723.8" stroke="#22e022" stroke-width="1.2" fill="none"/>
<path d="M571 228.5 V232.5 M722.5 228.5 V232.5" stroke="#22e022" stroke-width="1.2" fill="none" stroke-width="2"/>
<path d="M631 236.5 H638 V239 H641.5 V241.5 H636.5 V246.5 H632.5 V241.5 H627.5 V239 H631 Z" fill="#22e022"/>
<rect x="530.8" y="263.6" width="18.3" height="5.1" fill="#22e022"/>
<path d="M532 263.6 V268.7 M536.5 263.6 V268.7 M541 263.6 V268.7 M545.5 263.6 V268.7" stroke="#fff" stroke-width="0.8"/>
<path d="M529.5 271.3 H547.5" stroke="#22e022" stroke-width="1.2" fill="none" stroke-width="1"/>
<path d="M547.5 271.3 L558 284" stroke="#666" stroke-width="0.6"/>
<path d="M517.6 272.8 L557.8 290.5 M517.6 275.5 L557.8 293 M517.6 272.8 V275.5" stroke="#22e022" stroke-width="1.2" fill="none" stroke-width="1.6"/>
<path d="M520 274 L523 277 L526 275.5 L529 279 L532 277.5 L535 281 L538 279.5 L541 283 L544 281.5 L547 285 L550 283.5 L553 287 L556 286" stroke="#22e022" stroke-width="1.2" fill="none" stroke-width="1"/>
<path d="M528.8 280 L532 294 L534.9 281 M557.8 284 V294.5 M556 284 V294" stroke="#22e022" stroke-width="1.2" fill="none" stroke-width="1.6"/>
<path d="M560.8 284 H587.2 V289.5 H560.8 Z M560.8 289.5 H587.2 V294 H560.8 Z" stroke="#70dd70" stroke-width="1" fill="#fff"/>
<path d="M581.5 271.5 H617.5 V281 H581.5 Z" stroke="#22e022" stroke-width="2" fill="#22e022" fill-opacity="0.3"/>
<path d="M581.5 271 L588.5 283 L591 283 L585 271 Z" fill="#22e022"/>
<rect x="616.3" y="266" width="4.5" height="16" fill="#22e022" opacity="0.85"/>
<path d="M583 273 L588 281 M586 273 H592 V279 H586 Z M595 273 H603 V276 H595 Z M604 274 H614 M604 278 H614 M612 271.5 V281" stroke="#22e022" stroke-width="1.2" fill="none" stroke-width="1.3"/>
<path d="M587 281 L589 295 H617 V281 M592 281 V295 M613 281 V295 M590 283.5 H615 M590 288 H615 M590 292 H615 M593 289.5 Q602 283 611 289.5" stroke="#22e022" stroke-width="1.2" fill="none" stroke-width="1.6"/>
<path d="M588 276 Q584 283 589 290 M611 286 L615 284 L615 290 Z" stroke="#22e022" stroke-width="1.2" fill="none" stroke-width="1.6"/>
<path d="M617 266 H673 M617 281 H672 M617 266 V295 M620.5 266 V281" stroke="#22e022" stroke-width="1.2" fill="none" stroke-width="1.6"/>
<path d="M621 270 Q640 276 668 272 M621 273 Q645 281 668 276 M622 268 L642 275 M650 271 Q658 269 668 270 M630 266 V270 M640 266 V272 M655 266 V270" stroke="#22e022" stroke-width="1.2" fill="none" stroke-width="1"/>
<path d="M641.7 270 V295 M645 270 V295 M668 270 V295 M672 268 V295" stroke="#22e022" stroke-width="1.2" fill="none" stroke-width="1.1"/>
<path d="M641 276 H647 M640 282 H647" stroke="#22e022" stroke-width="1.2" fill="none" stroke-width="2"/>
<ellipse cx="665" cy="271" rx="3" ry="1.6" fill="#22e022"/><circle cx="632" cy="266.5" r="1.3" fill="#22e022"/><circle cx="655" cy="266.5" r="1.3" fill="#22e022"/>
<path d="M672 268 H680 Q682.3 268 682.3 270.5 V295" stroke="#22e022" stroke-width="1.2" fill="none" stroke-width="2.4"/>
<path d="M618 281 L622 284 L622 295" stroke="#22e022" stroke-width="1.2" fill="none" stroke-width="1"/>
<rect x="667" y="294" width="6" height="1.2" fill="#333"/>
<path d="M681.8 293 V305.5 H889" stroke="#1e60c0" stroke-width="1.8" fill="none"/>
<rect x="854.5" y="282.3" width="83" height="40" fill="#1474a8"/>
<path d="M854.5 275 V322.3 H937.5 V275" stroke="#888" stroke-width="1.8" fill="none"/>
<path d="M856 315 L895 321 L936 316 V322 H856 Z" fill="#808080"/>
<path d="M907 283 V305 H912" stroke="#1b4fa0" stroke-width="1.6" fill="none"/>
<path d="M855.5 305.8 H889" stroke="#1e50b0" stroke-width="1.6"/>
<path d="M890.5 302 V292 Q893.5 286.5 896.5 292 V302 L898.0 304 V308 Q898.0 310 896.0 310 H891.0 Q889.0 310 889.0 308 V304 Z" fill="#22f022"/>
<path d="M914 302 V292 Q917 286.5 920 292 V302 L921.5 304 V308 Q921.5 310 919.5 310 H914.5 Q912.5 310 912.5 308 V304 Z" fill="#22f022"/>
<text transform="translate(60 155) scale(1 0.86)" class="lb" >进水井</text><line x1="60" y1="158" x2="93" y2="158" stroke="#8a8580" stroke-width="1"/>
<text transform="translate(95.5 155) scale(1 0.86)" class="lb" >粗格栅</text><line x1="95.5" y1="158" x2="126.5" y2="158" stroke="#8a8580" stroke-width="1"/>
<text transform="translate(129 155) scale(1 0.86)" class="lb" >进水泵房</text><line x1="129" y1="158" x2="172" y2="158" stroke="#8a8580" stroke-width="1"/>
<text transform="translate(206 155) scale(1 0.86)" class="lb" >细格栅</text><line x1="206" y1="158" x2="238.5" y2="158" stroke="#8a8580" stroke-width="1"/>
<text transform="translate(286 155) scale(1 0.86)" class="lb" >旋流沉砂池</text><line x1="286" y1="158" x2="341" y2="158" stroke="#8a8580" stroke-width="1"/>
<text transform="translate(514 155) scale(1 0.86)" class="lb" >生物池</text><line x1="514" y1="158" x2="546.5" y2="158" stroke="#8a8580" stroke-width="1"/>
<text transform="translate(803.5 155) scale(1 0.86)" class="lb" >二沉池</text><line x1="803.5" y1="158" x2="836.5" y2="158" stroke="#8a8580" stroke-width="1"/>
<text transform="translate(956.7 155) scale(1 0.86)" class="lb" >接触池</text><line x1="956.7" y1="158" x2="989.7" y2="158" stroke="#8a8580" stroke-width="1"/>
<text transform="translate(232.5 173) scale(1 0.86)" class="rd" >除臭污泥投加</text>
<text transform="translate(409.2 151.5) scale(1 0.86)" class="rd" >培养箱曝气</text>
<text transform="translate(620 172.5) scale(1 0.86)" class="lb" >回流污泥</text>
<text transform="translate(319.5 199) scale(1 0.86)" class="lb" >流量计</text>
<text transform="translate(359 199) scale(1 0.86)" class="lb" >阀门</text>
<text transform="translate(763 323.5) scale(1 0.86)" class="lb" >剩余污泥</text>
<text transform="translate(271 345) scale(1 0.86)" class="lb" >鼓风机房</text><line x1="271" y1="348" x2="315.5" y2="348" stroke="#8a8580" stroke-width="1"/>
<text transform="translate(619 345) scale(1 0.86)" class="lb" >脱水机房</text><line x1="619" y1="348" x2="663" y2="348" stroke="#8a8580" stroke-width="1"/>
<text transform="translate(885.7 345) scale(1 0.86)" class="lb" >污泥泵房</text><line x1="885.7" y1="348" x2="929.7" y2="348" stroke="#8a8580" stroke-width="1"/>
</svg>
<div class="cap"><b style="position:relative;top:-2.3px;-webkit-text-stroke:0.35px #000">CYYF</b> <span style="letter-spacing:0.18px;color:#262626">城镇污水厂全过程除臭工艺典型流程图</span></div>
</body></html>
